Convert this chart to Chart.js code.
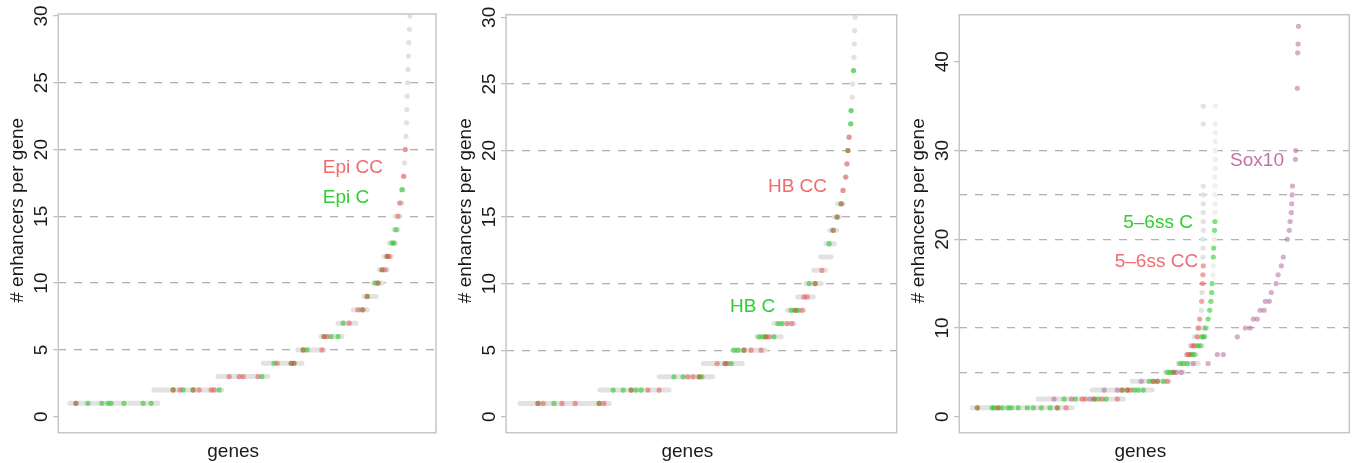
<!DOCTYPE html>
<html>
<head>
<meta charset="utf-8">
<title>Enhancers per gene</title>
<script src="https://cdn.jsdelivr.net/npm/chart.js@4.4.1/dist/chart.umd.min.js"></script>
<style>
  html, body { margin: 0; padding: 0; background: #fff; }
  #wrap { position: relative; width: 1354px; height: 463px; overflow: hidden; }
  #wrap canvas { position: absolute; left: 0; top: 0; }
</style>
</head>
<body>
<div id="wrap">
  <canvas id="epi" width="1354" height="463"></canvas>
  <canvas id="hb" width="1354" height="463"></canvas>
  <canvas id="ss" width="1354" height="463"></canvas>
</div>
<script>
// genes are ranked by enhancer count; x = gene rank, y = # enhancers
// grey runs: [enhancers, first rank, last rank]

// Epi panel
const epiGrey = [
  [1, 0, 220], [2, 210, 380], [3, 370, 495], [4, 483, 580], [5, 570, 635],
  [6, 628, 680], [7, 670, 715], [8, 708, 743], [9, 735, 765], [10, 758, 780],
  [11, 773, 793], [12, 785, 803], [13, 798, 813], [14, 810, 820], [15, 813, 825],
  [16, 823, 830], [17, 830, 833], [18, 835, 835], [19, 836, 836], [20, 838, 838],
  [21, 840, 840], [22, 841, 841], [23, 842, 842], [24, 843, 843], [25, 844, 844],
  [26, 845, 845], [27, 846, 846], [28, 847, 847], [29, 849, 849], [30, 850, 850]
];
const epiCC = [
  [15, 1], [258, 2], [275, 2], [308, 2], [323, 2], [353, 2], [360, 2],
  [398, 3], [423, 3], [433, 3], [470, 3], [518, 4], [553, 4], [560, 4],
  [583, 5], [630, 5], [635, 6], [643, 6], [698, 7], [720, 8], [733, 8],
  [743, 9], [770, 10], [780, 11], [788, 11], [793, 12], [798, 12],
  [820, 15], [825, 16], [834, 18], [838, 20]
];
const epiC = [
  [15, 1], [45, 1], [80, 1], [95, 1], [103, 1], [135, 1], [183, 1], [203, 1],
  [258, 2], [283, 2], [308, 2], [373, 2], [480, 3], [510, 4], [553, 4], [560, 4],
  [583, 5], [593, 5], [635, 6], [653, 6], [670, 6], [683, 7], [730, 8], [743, 9],
  [763, 10], [770, 10], [780, 11], [793, 12], [805, 13], [810, 13], [815, 14], [830, 17]
];

// HB panel
const hbGrey = [
  [1, 0, 223], [2, 200, 373], [3, 348, 482], [4, 458, 556], [5, 532, 613],
  [6, 592, 653], [7, 635, 685], [8, 669, 710], [9, 694, 733], [10, 715, 753],
  [11, 735, 764], [12, 752, 778], [13, 765, 786], [14, 775, 792], [15, 786, 798],
  [16, 794, 808], [17, 807, 807], [18, 813, 813], [19, 816, 816], [20, 819, 819],
  [21, 823, 823], [22, 827, 827], [23, 828, 828], [24, 831, 831], [25, 832, 832],
  [26, 834, 834], [27, 835, 835], [28, 836, 836], [29, 837, 837], [30, 838, 838]
];
const hbCC = [
  [45, 1], [58, 1], [105, 1], [138, 1], [198, 1], [210, 1], [278, 2], [320, 2],
  [348, 2], [420, 3], [433, 3], [448, 3], [493, 4], [513, 4], [518, 4], [560, 5],
  [578, 5], [603, 5], [615, 6], [623, 6], [668, 7], [680, 7], [688, 8], [705, 8],
  [710, 9], [718, 9], [738, 10], [755, 11], [783, 14], [793, 15], [803, 16],
  [808, 17], [815, 18], [818, 19], [820, 20], [823, 21]
];
const hbC = [
  [45, 1], [85, 1], [198, 1], [233, 2], [258, 2], [278, 2], [290, 2], [303, 2],
  [385, 3], [408, 3], [448, 3], [455, 3], [513, 4], [528, 4], [535, 5], [545, 5],
  [560, 5], [598, 6], [608, 6], [615, 6], [635, 6], [645, 7], [655, 7], [678, 8],
  [688, 8], [695, 8], [723, 10], [738, 10], [773, 13], [783, 14], [793, 15],
  [803, 16], [820, 20], [827, 22], [828, 23], [834, 26]
];

// 5-6ss / Sox10 panel
const ssGrey = [
  [1, 0, 250], [2, 165, 378], [3, 300, 450], [4, 400, 493], [5, 483, 528],
  [6, 515, 565], [7, 535, 560], [8, 545, 575], [9, 555, 583], [10, 563, 588]
];
const ssGreyCC = [
  [573, 12], [575, 14], [577, 18], [577, 19], [577, 20], [578, 21], [578, 22],
  [578, 23], [578, 24], [578, 25], [578, 26], [578, 33], [578, 35]
];
const ssGreyC = [
  [602, 16], [603, 17], [605, 20], [607, 23], [607, 24], [607, 25], [607, 26],
  [607, 27], [608, 28], [608, 29], [608, 30], [608, 31], [608, 32], [608, 33], [608, 35]
];
const ssCC = [
  [13, 1], [65, 1], [213, 1], [235, 1], [248, 2], [275, 2], [283, 2], [305, 2],
  [325, 2], [363, 2], [375, 3], [388, 3], [395, 3], [453, 4], [463, 4], [488, 4],
  [503, 5], [538, 7], [543, 7], [550, 8], [555, 8], [563, 9], [566, 10], [569, 11],
  [574, 13], [576, 15], [577, 16], [578, 17]
];
const ssC = [
  [13, 1], [50, 1], [55, 1], [65, 1], [75, 1], [90, 1], [98, 1], [115, 1], [138, 1],
  [153, 1], [173, 1], [195, 1], [213, 1], [230, 2], [258, 2], [305, 2], [315, 2],
  [335, 2], [375, 3], [388, 3], [405, 3], [415, 3], [428, 3], [443, 4], [453, 4],
  [463, 4], [478, 4], [488, 5], [495, 5], [503, 5], [520, 6], [528, 6], [538, 6],
  [548, 7], [555, 7], [563, 8], [570, 8], [575, 9], [580, 9], [583, 10], [590, 11],
  [594, 12], [597, 13], [599, 14], [600, 15], [603, 18], [604, 19], [606, 21], [607, 22]
];
const sox10 = [
  [205, 2], [295, 2], [330, 3], [363, 3], [423, 4], [510, 5], [523, 5], [553, 6],
  [590, 6], [613, 7], [628, 7], [663, 9], [683, 10], [695, 10], [703, 11], [713, 11],
  [720, 12], [730, 12], [733, 13], [743, 13], [748, 14], [760, 15], [765, 16],
  [773, 17], [778, 18], [788, 20], [793, 21], [795, 22], [798, 23], [799, 24],
  [800, 25], [801, 26], [808, 29], [809, 30], [813, 37], [814, 41], [815, 42], [816, 44]
];

// y axis ticks
const ticks30 = [0, 5, 10, 15, 20, 25, 30];
const labels30 = [0, 5, 10, 15, 20, 25, 30];
const grid30 = [5, 10, 15, 20, 25];
const ticks45 = [0, 5, 10, 15, 20, 25, 30, 35, 40];
const labels45 = [0, 10, 20, 30, 40];
const grid45 = [5, 10, 15, 20, 25, 30];

const FAMILY = '"Liberation Sans", Arial, Helvetica, sans-serif';
const RED = 'rgba(235, 70, 70, 0.5)';
const GREEN = 'rgba(25, 200, 25, 0.55)';
const PURPLE = 'rgba(176, 92, 152, 0.5)';
const GREY = '#e2e2e2';

const toXY = arr => arr.map(([x, y]) => ({ x, y }));

function runsToLine(runs) {
  const pts = [];
  runs.forEach(([y, from, to]) => {
    if (to > from) pts.push({ x: from, y }, { x: to, y }, { x: to, y: null });
  });
  return pts;
}

function runsToDots(runs) {
  return runs.filter(r => r[2] === r[1]).map(([y, x]) => ({ x, y }));
}

function dots(data, color, order) {
  return { type: 'scatter', data: toXY(data), backgroundColor: color, borderWidth: 0, pointRadius: 2.6, order };
}

function greyDatasets(runs) {
  return [
    { type: 'line', data: runsToLine(runs), borderColor: GREY, borderWidth: 5, borderCapStyle: 'round',
      pointRadius: 0, fill: false, spanGaps: false, order: 9 },
    { type: 'scatter', data: runsToDots(runs), backgroundColor: GREY, borderWidth: 0, pointRadius: 2.6, order: 8 }
  ];
}

// box, text labels and axis titles
const decor = {
  id: 'decor',
  afterDatasetsDraw(chart, args, opts) {
    const { ctx, chartArea: a, scales: { x, y } } = chart;
    ctx.save();
    ctx.strokeStyle = '#c6c6c6';
    ctx.lineWidth = 1.5;
    ctx.strokeRect(a.left, a.top, a.right - a.left, a.bottom - a.top);

    ctx.font = '19px ' + FAMILY;
    ctx.textBaseline = 'middle';
    opts.notes.forEach(n => {
      ctx.fillStyle = n.color;
      ctx.textAlign = n.align;
      ctx.fillText(n.text, x.getPixelForValue(n.x), y.getPixelForValue(n.y));
    });

    ctx.fillStyle = '#1a1a1a';
    ctx.textAlign = 'center';
    ctx.textBaseline = 'alphabetic';
    ctx.fillText('genes', (a.left + a.right) / 2 - 14, 456.5);
    ctx.translate(a.left - 40.6, (a.top + a.bottom) / 2 - 13);
    ctx.rotate(-Math.PI / 2);
    ctx.textBaseline = 'middle';
    ctx.fillText('# enhancers per gene', 0, 0);
    ctx.restore();
  }
};

function makePanel(id, p) {
  const yWidth = 52;
  return new Chart(document.getElementById(id), {
    type: 'scatter',
    data: { datasets: p.datasets },
    options: {
      responsive: false,
      animation: false,
      events: [],
      layout: {
        padding: {
          left: p.frame.left - yWidth,
          right: 1354 - p.frame.right,
          top: p.frame.top,
          bottom: 463 - p.frame.bottom
        }
      },
      plugins: {
        legend: { display: false },
        tooltip: { enabled: false },
        decor: { notes: p.notes }
      },
      scales: {
        x: { type: 'linear', display: false, min: p.xMin, max: p.xMax },
        y: {
          type: 'linear',
          min: p.yMin,
          max: p.yMax,
          afterFit: s => { s.width = yWidth; },
          afterBuildTicks: s => { s.ticks = p.ticks.map(v => ({ value: v })); },
          ticks: {
            minRotation: 90,
            maxRotation: 90,
            crossAlign: 'center',
            padding: 1,
            color: '#1a1a1a',
            font: { family: FAMILY, size: 19 },
            callback: v => p.labels.includes(v) ? String(v) : ''
          },
          grid: {
            color: c => p.grid.includes(c.tick.value) ? '#b3b3b3' : 'rgba(0,0,0,0)',
            lineWidth: 1.3,
            tickLength: 5,
            tickWidth: 1.2,
            tickColor: c => p.labels.includes(c.tick.value) ? '#bcbcbc' : 'rgba(0,0,0,0)'
          },
          border: { display: false, dash: [8, 8] }
        }
      }
    },
    plugins: [decor]
  });
}

makePanel('epi', {
  frame: { left: 58.3, right: 436, top: 14, bottom: 432.7 },
  xMin: -29, xMax: 915, yMin: -1.2, yMax: 30.15,
  ticks: ticks30, labels: labels30, grid: grid30,
  datasets: [dots(epiCC, RED, 1), dots(epiC, GREEN, 2)].concat(greyDatasets(epiGrey)),
  notes: [
    { text: 'Epi CC', x: 632, y: 18.66, color: '#f06b6b', align: 'left' },
    { text: 'Epi C', x: 632, y: 16.38, color: '#33cc33', align: 'left' }
  ]
});

makePanel('hb', {
  frame: { left: 506, right: 896.7, top: 14.7, bottom: 432.7 },
  xMin: -35, xMax: 942, yMin: -1.2, yMax: 30.2,
  ticks: ticks30, labels: labels30, grid: grid30,
  datasets: [dots(hbCC, RED, 1), dots(hbC, GREEN, 2)].concat(greyDatasets(hbGrey)),
  notes: [
    { text: 'HB CC', x: 620, y: 17.26, color: '#f06b6b', align: 'left' },
    { text: 'HB C', x: 525, y: 8.24, color: '#33cc33', align: 'left' }
  ]
});

makePanel('ss', {
  frame: { left: 959.3, right: 1349.3, top: 14.7, bottom: 432.7 },
  xMin: -32, xMax: 943, yMin: -1.8, yMax: 45.3,
  ticks: ticks45, labels: labels45, grid: grid45,
  datasets: [
    dots(ssCC, RED, 1),
    dots(ssC, GREEN, 2),
    dots(sox10, PURPLE, 3),
    { type: 'scatter', data: toXY(ssGreyCC), backgroundColor: GREY, borderWidth: 0, pointRadius: 2.6, order: 7 },
    { type: 'scatter', data: toXY(ssGreyC), backgroundColor: '#efefef', borderWidth: 0, pointRadius: 2.6, order: 7 }
  ].concat(greyDatasets(ssGrey)),
  notes: [
    { text: '5\u20136ss C', x: 552, y: 21.84, color: '#33cc33', align: 'right' },
    { text: '5\u20136ss CC', x: 565, y: 17.44, color: '#f06b6b', align: 'right' },
    { text: 'Sox10', x: 645, y: 28.79, color: '#c271aa', align: 'left' }
  ]
});
</script>
</body>
</html>
